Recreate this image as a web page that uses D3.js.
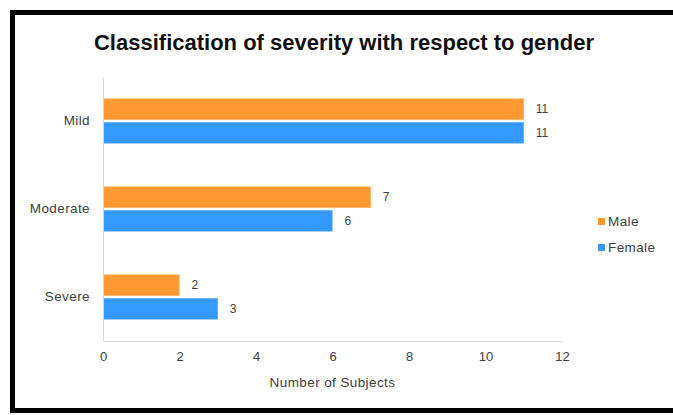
<!DOCTYPE html>
<html><head><meta charset="utf-8">
<script src="https://cdn.jsdelivr.net/npm/d3@7"></script>
<style>body{margin:0;background:#fff;}svg{display:block;font-family:"Liberation Sans",Arial,sans-serif;}</style>
</head><body>
<svg id="c" width="673" height="415"></svg>
<script>
const categories = ["Mild", "Moderate", "Severe"];
const seriesNames = ["Male", "Female"];
const maleValues = [11, 7, 2];
const femaleValues = [11, 6, 3];
const xTicks = [0, 2, 4, 6, 8, 10, 12];
const colors = {Male: "#FF9933", Female: "#3399FF"};

const svg = d3.select("#c");
// frame
svg.append("rect").attr("x", 12.5).attr("y", 12.5).attr("width", 720).attr("height", 398)
  .attr("fill", "#fff").attr("stroke", "#000").attr("stroke-width", 5);

svg.append("text").attr("x", 344).attr("y", 50).attr("text-anchor", "middle")
  .attr("font-size", 22).attr("font-weight", "bold").attr("fill", "#111")
  .text("Classification of severity with respect to gender");

const m = {left: 103, right: 562, top: 77, bottom: 341};
const x = d3.scaleLinear().domain([0, 12]).range([m.left, m.right]);
const y = d3.scaleBand().domain(categories).range([m.top, m.bottom]).paddingInner(0.49).paddingOuter(0.245);
const y1 = d3.scaleBand().domain(seriesNames).range([0, y.bandwidth()]).paddingInner(0.11);

const data = categories.map((c, i) => ({cat: c, Male: maleValues[i], Female: femaleValues[i]}));
const lbl = {size: 13.5, ls: 0.4, fill: "#404040"};

const g = svg.append("g");
data.forEach(d => {
  seriesNames.forEach(s => {
    g.append("rect").attr("x", x(0)).attr("y", y(d.cat) + y1(s))
      .attr("width", x(d[s]) - x(0)).attr("height", y1.bandwidth()).attr("fill", colors[s]);
    g.append("text").attr("x", x(d[s]) + 12).attr("y", y(d.cat) + y1(s) + y1.bandwidth() / 2 + 4)
      .attr("font-size", 12).attr("fill", lbl.fill).text(d[s]);
  });
});

// axes
const xa = svg.append("g").attr("transform", `translate(0,${m.bottom})`)
  .call(d3.axisBottom(x).tickValues(xTicks).tickSize(0).tickPadding(11));
xa.select(".domain").attr("stroke", "#d9d9d9");
xa.selectAll("text").attr("font-size", 13).attr("fill", lbl.fill).attr("font-family", "Liberation Sans, Arial, sans-serif");

const ya = svg.append("g").attr("transform", `translate(${m.left},0)`)
  .call(d3.axisLeft(y).tickSize(0).tickPadding(13));
ya.select(".domain").attr("stroke", "#d9d9d9");
ya.selectAll("text").attr("font-size", lbl.size).attr("letter-spacing", lbl.ls).attr("fill", lbl.fill).attr("font-family", "Liberation Sans, Arial, sans-serif");

svg.append("text").attr("x", (m.left + m.right) / 2).attr("y", 387).attr("text-anchor", "middle")
  .attr("font-size", lbl.size).attr("letter-spacing", lbl.ls).attr("fill", lbl.fill).text("Number of Subjects");

// legend
seriesNames.forEach((s, i) => {
  const ly = 221 + i * 26;
  svg.append("rect").attr("x", 598).attr("y", ly - 3).attr("width", 7).attr("height", 7).attr("fill", colors[s]);
  svg.append("text").attr("x", 608).attr("y", ly + 5).attr("font-size", lbl.size).attr("letter-spacing", lbl.ls).attr("fill", lbl.fill).text(s);
});
</script>
</body></html>
